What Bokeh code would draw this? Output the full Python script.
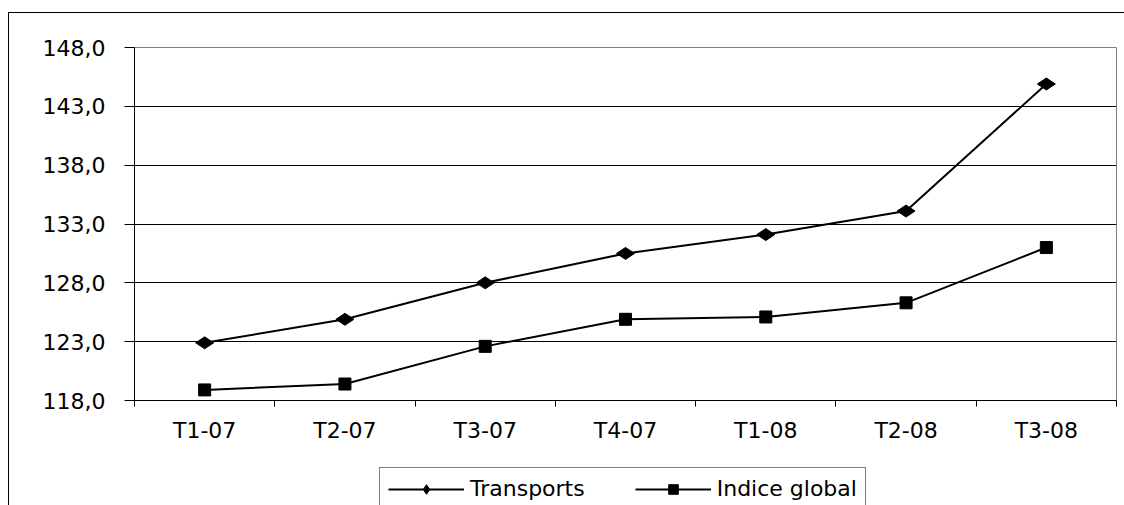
from bokeh.plotting import figure
from bokeh.models import Range1d, FixedTicker, Legend, LegendItem
from bokeh.layouts import column
from bokeh.embed import file_html
from bokeh.resources import INLINE
import numpy as np
import math

categories = ["T1-07", "T2-07", "T3-07", "T4-07", "T1-08", "T2-08", "T3-08"]
transports = [122.9, 124.9, 128.0, 130.5, 132.1, 134.1, 144.9]
indice_global = [118.9, 119.4, 122.6, 124.9, 125.1, 126.3, 131.0]
y_ticks = [118, 123, 128, 133, 138, 143, 148]
series_names = ["Transports", "Indice global"]

FONT = "DejaVu Sans"
FS = "22px"

x = np.arange(len(categories)) + 0.5

p = figure(width=1115, height=437, output_backend="svg", toolbar_location=None,
           x_range=Range1d(0, len(categories)), y_range=Range1d(118, 148),
           min_border_left=125, min_border_right=8, min_border_top=34,
           min_border_bottom=50)

p.outline_line_color = "#808080"
p.outline_line_width = 1
p.background_fill_color = "white"
p.border_fill_color = "white"

# x axis
xa = p.xaxis[0]
xa.ticker = FixedTicker(ticks=list(x), minor_ticks=list(range(len(categories) + 1)))
xa.major_label_overrides = {float(xi): c for xi, c in zip(x, categories)}
xa.major_tick_out = 0
xa.major_tick_in = 0
xa.minor_tick_out = 6
xa.minor_tick_in = 0
xa.minor_tick_line_color = "black"
xa.axis_line_color = "black"
xa.major_label_text_font = FONT
xa.major_label_text_font_size = FS
xa.major_label_text_color = "black"
xa.major_label_standoff = 11

# y axis
ya = p.yaxis[0]
ya.ticker = FixedTicker(ticks=y_ticks, minor_ticks=[])
ya.major_label_overrides = {t: f"{t:.1f}".replace(".", ",") for t in y_ticks}
ya.major_tick_out = 10
ya.major_tick_in = 0
ya.major_tick_line_color = "black"
ya.axis_line_color = "black"
ya.major_label_text_font = FONT
ya.major_label_text_font_size = FS
ya.major_label_text_color = "black"
ya.major_label_standoff = 19

p.xgrid.grid_line_color = None
p.ygrid.ticker = FixedTicker(ticks=y_ticks[1:-1], minor_ticks=[])
p.ygrid.grid_line_color = "#000000"
p.ygrid.grid_line_width = 1

DIAMOND = dict(marker="diamond", size=18, angle=math.pi / 2,
               fill_color="black", line_color="black")
SQUARE = dict(marker="square", size=12, fill_color="black", line_color="black")

p.line(x, transports, line_color="black", line_width=2)
p.scatter(x, transports, **DIAMOND)
p.line(x, indice_global, line_color="black", line_width=2)
p.scatter(x, indice_global, **SQUARE)

# legend panel below the chart (its frame is aligned with the chart's frame)
lg = figure(width=1115, height=55, output_backend="svg", toolbar_location=None,
            x_range=Range1d(0, 1), y_range=Range1d(0, 1),
            min_border_left=0, min_border_right=0, min_border_top=0,
            min_border_bottom=0)
lg.axis.visible = False
lg.grid.visible = False
lg.outline_line_color = None
lg.border_fill_color = "white"

# legend proxies: same data, outside this panel's visible range
g1 = lg.line(x[:1], transports[:1], line_color="black", line_width=2)
d1 = lg.scatter(x[:1], transports[:1], **DIAMOND)
g2 = lg.line(x[:1], indice_global[:1], line_color="black", line_width=2)
d2 = lg.scatter(x[:1], indice_global[:1], **SQUARE)

legend = Legend(items=[LegendItem(label=series_names[0], renderers=[g1, d1]),
                       LegendItem(label=series_names[1], renderers=[g2, d2])],
                location=(245, -5), orientation="horizontal",
                border_line_color="black", border_line_width=1,
                background_fill_color="white", background_fill_alpha=1,
                label_text_font=FONT, label_text_font_size=FS,
                label_text_color="black",
                glyph_width=76, glyph_height=24, label_height=24,
                label_standoff=6, spacing=50, padding=8, margin=0)
lg.add_layout(legend, "center")

layout = column(p, lg, spacing=0)
layout.styles = {"margin-left": "8px", "margin-top": "12px",
                 "border-left": "1px solid #000", "border-top": "1px solid #000"}

open("out.html", "w").write(file_html(layout, INLINE))
